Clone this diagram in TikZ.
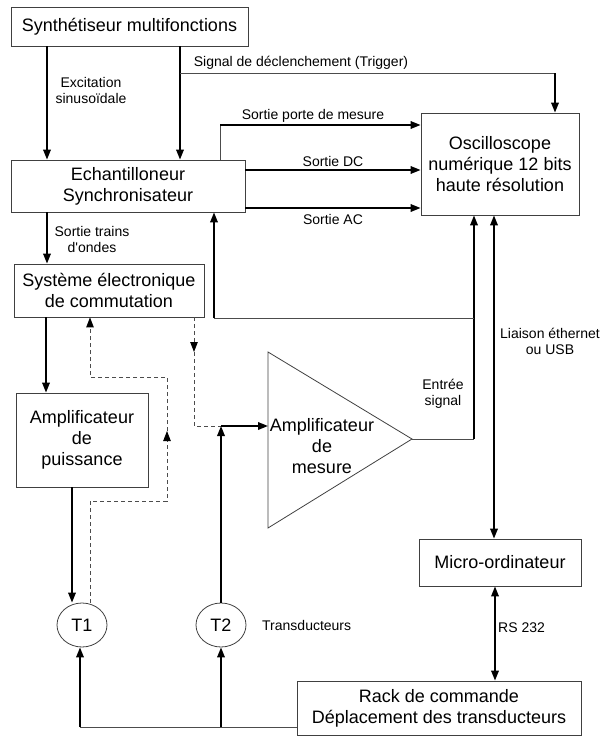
\documentclass[tikz,border=0pt]{standalone}
\usepackage{fontspec}
\setmainfont{Liberation Sans}
\usetikzlibrary{arrows.meta,shapes.geometric}
\tikzset{
 box/.style={draw=black!75, line width=0.8pt, fill=white, align=center, font=\fontsize{18}{21}\selectfont, inner sep=0pt},
 lbl/.style={font=\fontsize{14}{16}\selectfont, align=center, inner sep=0pt},
 thk/.style={line width=1.8pt, draw=black},
 thn/.style={line width=0.9pt, draw=black!70},
 dsh/.style={line width=0.9pt, draw=black!70, dash pattern=on 4pt off 3pt},
 arr/.style={-{Triangle[length=10pt,width=7.5pt]}},
 darrow/.style={-{Triangle[length=10pt,width=7.5pt,color=black]}},
 darr/.style={{Triangle[length=10pt,width=7.5pt]}-{Triangle[length=10pt,width=7.5pt]}},
 tr/.style={draw=black!75, line width=0.8pt, ellipse, minimum width=50pt, minimum height=44pt, inner sep=0pt, font=\fontsize{18}{21}\selectfont},
}
\begin{document}
\begin{tikzpicture}[x=1pt,y=-1pt]
\useasboundingbox (0,0) rectangle (602,736);
% boxes
\node[box, minimum width=237pt, minimum height=39pt] (synth) at (129.5,26.5) {Synthétiseur multifonctions};
\node[box, minimum width=234pt, minimum height=52pt] (echant) at (128,186) {Echantilloneur\\Synchronisateur};
\node[box, minimum width=158pt, minimum height=102pt] (osc) at (500,164) {Oscilloscope\\numérique 12 bits\\haute résolution};
\node[box, minimum width=190pt, minimum height=53pt] (sys) at (109,290.5) {Système électronique\\de commutation};
\node[box, minimum width=132pt, minimum height=94pt] (ampP) at (82,440) {Amplificateur\\de\\puissance};
\node[box, minimum width=162pt, minimum height=47pt] (micro) at (500,562.5) {Micro-ordinateur};
\node[box, minimum width=284pt, minimum height=54pt] (rack) at (439,708) {Rack de commande\\Déplacement des transducteurs};
\node[tr] (T1) at (82,625) {T1};
\node[tr] (T2) at (221,625) {T2};
% amplifier triangle
\coordinate (triT) at (268,352);
\coordinate (triB) at (268,528);
\coordinate (ampTip) at (412,439);
\draw[line width=0.8pt, draw=black!75] (triT) -- (triB) -- (ampTip) -- cycle;
\node[font=\fontsize{18}{21}\selectfont, align=center, inner sep=0pt] (ampM) at (322,446) {Amplificateur\\de\\mesure};
% coordinates
\coordinate (cA) at (47,0);
\coordinate (cB) at (180,0);
\coordinate (cP) at (46,0);
\coordinate (cT1) at (72,0);
\coordinate (cT1d) at (90,0);
\coordinate (cD2) at (194,0);
\coordinate (cLi) at (494,0);
\coordinate (cRS) at (495,0);
\coordinate (cDC) at (0,170);
\coordinate (cAC) at (0,208);
\coordinate (cBot) at (0,727);
\coordinate (trig) at (180,73);
\coordinate (trigR) at (555,73);
\coordinate (porteB) at (220,125);
\coordinate (fbR) at (474,318);
\coordinate (fbL) at (214,318);
\coordinate (outR) at (474,439);
\coordinate (ampIn) at (268,426);
\coordinate (mix) at (221,426);
\coordinate (d2m) at (194,352);
\coordinate (d2b) at (194,426);
\coordinate (d1a) at (90,501);
\coordinate (d1b) at (167,501);
\coordinate (d1m) at (167,431);
\coordinate (d1c) at (167,377);
\coordinate (d1d) at (90,377);
\coordinate (botL) at (80,727);
\coordinate (botM) at (221,727);
% connectors
\draw[thk,arr] (synth.south -| cA) -- (echant.north -| cA);
\draw[thk,arr] (synth.south -| cB) -- (echant.north -| cB);
\draw[thn] (trig) -- (trigR);
\draw[thk,arr] (trigR) -- (osc.north -| trigR);
\draw[thn] (echant.north -| porteB) -- (porteB);
\draw[thk,arr] (porteB) -- (osc.west |- porteB);
\draw[thk,arr] (echant.east |- cDC) -- (osc.west |- cDC);
\draw[thk,arr] (echant.east |- cAC) -- (osc.west |- cAC);
\draw[thk,arr] (echant.south -| cA) -- (sys.north -| cA);
\draw[thk,arr] (sys.south -| cP) -- (ampP.north -| cP);
\draw[thk,arr] (ampP.south -| cT1) -- (T1.north -| cT1);
\draw[dsh,darrow] (T1.north -| cT1d) -- (d1a) -- (d1b) -- (d1m);
\draw[dsh,darrow] (d1m) -- (d1c) -- (d1d) -- (sys.south -| d1d);
\draw[dsh,darrow] (sys.south -| cD2) -- (d2m);
\draw[dsh] (d2m) -- (d2b) -- (mix);
\draw[thk,arr] (mix) -- (ampIn);
\draw[thk,arr] (T2.north) -- (mix);
\draw[thn] (ampTip) -- (outR);
\draw[thk,arr] (outR) -- (osc.south -| outR);
\draw[thn] (fbR) -- (fbL);
\draw[thk,arr] (fbL) -- (echant.south -| fbL);
\draw[thk,darr] (osc.south -| cLi) -- (micro.north -| cLi);
\draw[thk,darr] (micro.south -| cRS) -- (rack.north -| cRS);
\draw[thn] (rack.west |- cBot) -- (botL);
\draw[thk,arr] (botL) -- (T1.south -| botL);
\draw[thk,arr] (botM) -- (T2.south);
% labels
\node[lbl] (lExc) at (91,90) {Excitation\\sinusoïdale};
\node[lbl] (lTrig) at (301,63) {Signal de déclenchement (Trigger)};
\node[lbl] (lPorte) at (313,116) {Sortie porte de mesure};
\node[lbl] (lDC) at (333,161) {Sortie DC};
\node[lbl] (lAC) at (333,219) {Sortie AC};
\node[lbl] (lTrains) at (92,239) {Sortie trains\\d\textquotesingle ondes};
\node[lbl] (lEnt) at (443,394) {Entrée\\signal};
\node[lbl] (lLi) at (550,341) {Liaison éthernet\\ou USB};
\node[lbl,anchor=west] (lRS) at (498,628) {RS 232};
\node[lbl,anchor=west] (lTr) at (262,625) {Transducteurs};
\end{tikzpicture}
\end{document}
